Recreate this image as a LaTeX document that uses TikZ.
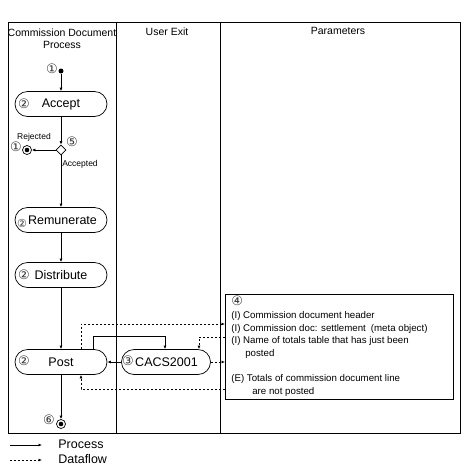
\documentclass[tikz,border=0pt]{standalone}
\usepackage{fontspec}
\setmainfont{Liberation Sans}
\newfontfamily\circfont{DejaVu Sans}
\usetikzlibrary{shapes.geometric,arrows.meta}

\tikzset{
    activity/.style={draw, rounded corners=12.5pt, minimum width=92pt, minimum height=25pt,
        inner sep=0pt, font=\fontsize{12.5}{14}\selectfont},
    marker/.style={inner sep=0pt, text=black!80, font=\circfont\fontsize{13}{13}\selectfont},
    process/.style={-{Latex[length=3.5pt,width=3pt]}},
    dataflow/.style={dash pattern=on 2pt off 2pt, -{Latex[length=3.5pt,width=3pt]}},
    smalltext/.style={inner sep=0pt, font=\fontsize{8.5}{10}\selectfont},
    endpoint/.style={circle, draw, inner sep=0pt, minimum size=9pt,
        path picture={\fill (path picture bounding box.center) circle (2.3pt);}},
}

\begin{document}
\begin{tikzpicture}[x=1pt, y=-1pt, line width=0.7pt]
    \useasboundingbox (0,0) rectangle (474,472);

    % Draw the swim lanes
    \draw (8,22) rectangle (460,433);
    \foreach \x in {116, 220} {
        \draw (\x,22) -- (\x,433);
    }
    \node[align=center, font=\fontsize{10.5}{12}\selectfont] (laneDoc) at (62,39) {Commission Document\\Process};
    \node[font=\fontsize{10.5}{12}\selectfont] (laneExit) at (167,32) {User Exit};
    \node[font=\fontsize{10.5}{12}\selectfont] (laneParam) at (338,31) {Parameters};

    % Draw the process steps
    \node[circle, fill, inner sep=0pt, minimum size=5pt] (start) at (61,71) {};
    \node[activity] (accept) at (61,104) {Accept};
    \node[diamond, draw, inner sep=0pt, minimum size=10pt] (check) at (61,150) {};
    \node[endpoint] (rejected) at (27,150) {};
    \node[activity] (remunerate) at (61,220) {\hspace{3pt}Remunerate};
    \node[activity] (distribute) at (61,275) {Distribute};
    \node[activity] (post) at (61,362) {Post};
    \node[activity, minimum width=89pt] (cacs) at (166,362) {\hspace{1pt}CACS2001};
    \node[endpoint] (stop) at (61,424) {};

    % Draw the numbers
    \node[marker] (numStart) at (52,69) {①};
    \node[marker] (numReject) at (16,147) {①};
    \node[marker] (numCheck) at (72,142) {⑤};
    \foreach \y/\n in {104/accept, 275/distribute, 361/post} {
        \node[marker] (num\n) at (24,\y) {②};
    }
    \node[marker, font=\circfont\fontsize{11}{11}\selectfont] (numremunerate) at (22,223) {②};
    \node[marker] (numExit) at (128,361) {③};
    \node[marker] (numStop) at (49,420) {⑥};

    % Draw the branch labels
    \node[smalltext] (lblRejected) at (34,137) {Rejected};
    \node[smalltext] (lblAccepted) at (80,164) {Accepted};

    % Draw the process flow
    \draw[process] (start) -- (accept);
    \draw[process] (accept) -- (check);
    \draw[process] (check) -- (rejected);
    \draw[process] (check) -- (remunerate);
    \draw[process] (remunerate) -- (distribute);
    \draw[process] (distribute) -- (post);
    \draw[process] (post) -- (stop);
    \draw[process] (cacs) -- (post);
    \draw[process] ([xshift=32pt]post.north) -- ++(0,-13) -| ([xshift=-1pt]cacs.north);

    % Draw the parameter box
    \node[draw, anchor=north west, minimum width=228pt, minimum height=105pt] (params) at (225,294) {};
    \node[anchor=north west, align=left, inner sep=0pt, font=\fontsize{9.7}{12.6}\selectfont] (paramText) at (231,296) {%
        {\circfont\color{black!80}\fontsize{13}{12.6}\selectfont ④}\\
        (I) Commission document header\\
        (I) Commission doc: settlement\hspace{5pt}(meta object)\\
        (I) Name of totals table that has just been\\
        \hspace{14pt}posted\\
        \mbox{}\\
        (E) Totals of commission document line\\
        \hspace{21pt}are not posted};

    % Draw the data flow
    \coordinate (dfIn) at (225,324);
    \coordinate (dfOut) at (225,337);
    \coordinate (dfBack) at (225,389);
    \draw[dataflow] ([xshift=20pt]post.north) |- (dfIn);
    \draw[dataflow] (dfOut) -| ([xshift=33pt]cacs.north);
    \draw[dataflow] (cacs.east) -- (cacs.east -| params.west);
    \draw[dataflow] (dfBack) -| ([xshift=20pt]post.south);

    % Draw the legend
    \coordinate (legA) at (10,445);
    \coordinate (legB) at (42,445);
    \coordinate (legC) at (10,460);
    \coordinate (legD) at (42,460);
    \draw[process] (legA) -- (legB);
    \draw[dataflow] (legC) -- (legD);
    \node[anchor=west, inner sep=0pt, font=\fontsize{12.5}{14}\selectfont] (legProcess) at (58,444) {Process};
    \node[anchor=west, inner sep=0pt, font=\fontsize{12.5}{14}\selectfont] (legDataflow) at (58,459) {Dataflow};
\end{tikzpicture}
\end{document}
